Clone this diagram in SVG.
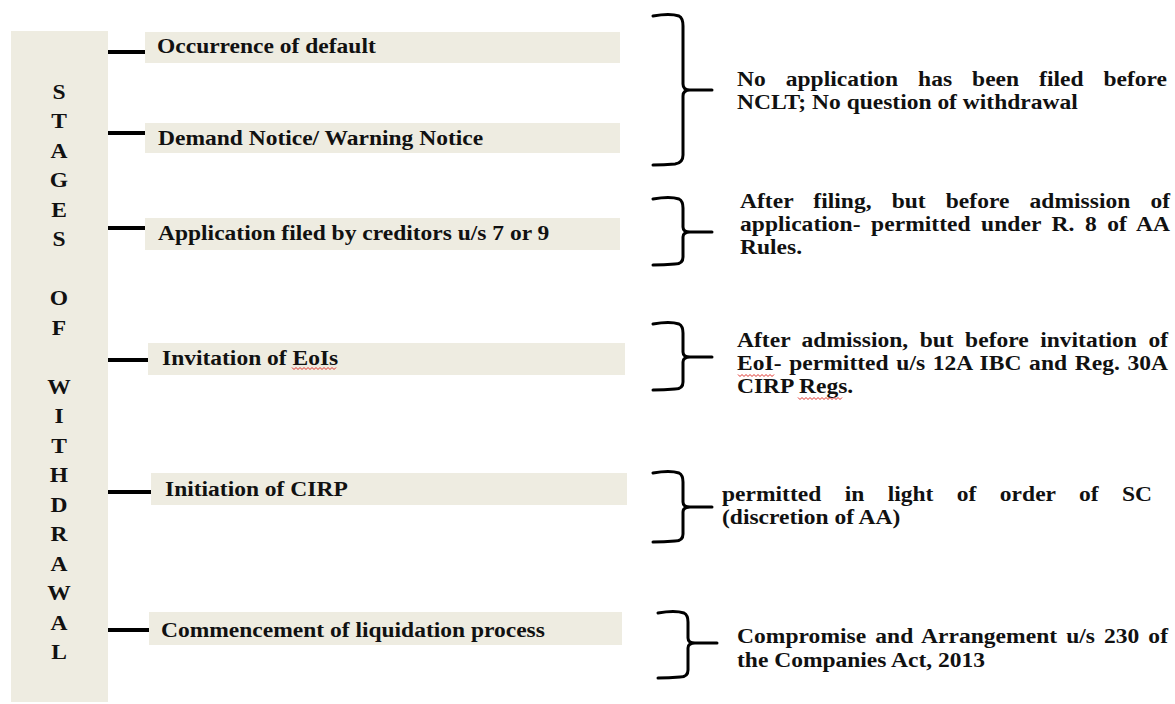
<svg xmlns="http://www.w3.org/2000/svg" width="1175" height="704" viewBox="0 0 1175 704">
<style>
.bg{fill:#EEECE1}
.t{font-family:"Liberation Serif","Times New Roman",serif;font-weight:bold;font-size:20px;fill:#111}
.c{text-anchor:middle}
.conn{stroke:#000;stroke-width:4;fill:none}
.br{stroke:#000;stroke-width:3;fill:none;stroke-linecap:round;stroke-linejoin:round}
.sq{stroke:#e0302a;stroke-width:1;fill:none}
</style>
<rect width="1175" height="704" fill="#fff"/>

<g id="stages-column">
<rect class="bg" x="11" y="31" width="97" height="671"/>
<text class="t c" transform="translate(59,98.5) scale(1.175,1)">S</text>
<text class="t c" transform="translate(59,128) scale(1.175,1)">T</text>
<text class="t c" transform="translate(59,157.5) scale(1.175,1)">A</text>
<text class="t c" transform="translate(59,187) scale(1.175,1)">G</text>
<text class="t c" transform="translate(59,216.5) scale(1.175,1)">E</text>
<text class="t c" transform="translate(59,246) scale(1.175,1)">S</text>
<text class="t c" transform="translate(59,305) scale(1.175,1)">O</text>
<text class="t c" transform="translate(59,334.5) scale(1.175,1)">F</text>
<text class="t c" transform="translate(59,393.5) scale(1.175,1)">W</text>
<text class="t c" transform="translate(59,423) scale(1.175,1)">I</text>
<text class="t c" transform="translate(59,452.5) scale(1.175,1)">T</text>
<text class="t c" transform="translate(59,482) scale(1.175,1)">H</text>
<text class="t c" transform="translate(59,511.5) scale(1.175,1)">D</text>
<text class="t c" transform="translate(59,541) scale(1.175,1)">R</text>
<text class="t c" transform="translate(59,570.5) scale(1.175,1)">A</text>
<text class="t c" transform="translate(59,600) scale(1.175,1)">W</text>
<text class="t c" transform="translate(59,629.5) scale(1.175,1)">A</text>
<text class="t c" transform="translate(59,659) scale(1.175,1)">L</text>
</g>

<g id="stage-occurrence">
<rect class="bg" x="145" y="32" width="475" height="31"/>
<text class="t" transform="translate(157,53) scale(1.175,1)">Occurrence of default</text>
</g>
<g id="stage-demand">
<rect class="bg" x="145" y="123" width="475" height="30"/>
<text class="t" transform="translate(158,145) scale(1.175,1)">Demand Notice/ Warning Notice</text>
</g>
<g id="stage-application">
<rect class="bg" x="145" y="218" width="475" height="32"/>
<text class="t" transform="translate(158,240) scale(1.175,1)">Application filed by creditors u/s 7 or 9</text>
</g>
<g id="stage-invitation">
<rect class="bg" x="148" y="343" width="477" height="32"/>
<text class="t" transform="translate(162,365) scale(1.175,1)">Invitation of EoIs</text>
<path class="sq" d="M292 367.5 l2 2 l2 -2 l2 2 l2 -2 l2 2 l2 -2 l2 2 l2 -2 l2 2 l2 -2 l2 2 l2 -2 l2 2 l2 -2 l2 2 l2 -2 l2 2 l2 -2 l2 2 l2 -2 l2 2 l2 -2"/>
</g>
<g id="stage-initiation">
<rect class="bg" x="151" y="473" width="476" height="32"/>
<text class="t" transform="translate(165,496) scale(1.175,1)">Initiation of CIRP</text>
</g>
<g id="stage-liquidation">
<rect class="bg" x="149" y="612" width="473" height="33"/>
<text class="t" transform="translate(161,637) scale(1.175,1)">Commencement of liquidation process</text>
</g>

<g id="note-1">
<text class="t" transform="translate(737,86) scale(1.175,1)" style="word-spacing:12px" textLength="366" lengthAdjust="spacing">No application has been filed before</text>
<text class="t" transform="translate(737,109) scale(1.175,1)">NCLT; No question of withdrawal</text>
</g>
<g id="note-2">
<text class="t" transform="translate(740,208) scale(1.175,1)" style="word-spacing:12px" textLength="366" lengthAdjust="spacing">After filing, but before admission of</text>
<text class="t" transform="translate(740,231) scale(1.175,1)" style="word-spacing:3.9px" textLength="366" lengthAdjust="spacing">application- permitted under R. 8 of AA</text>
<text class="t" transform="translate(740,254) scale(1.175,1)">Rules.</text>
</g>
<g id="note-3">
<text class="t" transform="translate(737,347) scale(1.175,1)" style="word-spacing:4.7px" textLength="366.8" lengthAdjust="spacing">After admission, but before invitation of</text>
<text class="t" transform="translate(737,370) scale(1.175,1)" style="word-spacing:1.4px" textLength="366.8" lengthAdjust="spacing">EoI- permitted u/s 12A IBC and Reg. 30A</text>
<text class="t" transform="translate(737,393) scale(1.175,1)">CIRP Regs.</text>
<path class="sq" d="M738 374.5 l2 2 l2 -2 l2 2 l2 -2 l2 2 l2 -2 l2 2 l2 -2 l2 2 l2 -2 l2 2 l2 -2 l2 2 l2 -2 l2 2 l2 -2 l2 2 l2 -2"/>
<path class="sq" d="M798 397.5 l2 2 l2 -2 l2 2 l2 -2 l2 2 l2 -2 l2 2 l2 -2 l2 2 l2 -2 l2 2 l2 -2 l2 2 l2 -2 l2 2 l2 -2 l2 2 l2 -2 l2 2 l2 -2 l2 2 l2 -2"/>
</g>
<g id="note-4">
<text class="t" transform="translate(722,501) scale(1.175,1)" style="word-spacing:14.9px" textLength="366" lengthAdjust="spacing">permitted in light of order of SC</text>
<text class="t" transform="translate(722,524) scale(1.175,1)">(discretion of AA)</text>
</g>
<g id="note-5">
<text class="t" transform="translate(737,643) scale(1.175,1)" style="word-spacing:2.6px" textLength="366.8" lengthAdjust="spacing">Compromise and Arrangement u/s 230 of</text>
<text class="t" transform="translate(737,667) scale(1.175,1)">the Companies Act, 2013</text>
</g>

<g id="connectors">
<line class="conn" x1="108" y1="52" x2="145" y2="52"/>
<line class="conn" x1="108" y1="133" x2="145" y2="133"/>
<line class="conn" x1="108" y1="228" x2="145" y2="228"/>
<line class="conn" x1="108" y1="360" x2="148" y2="360"/>
<line class="conn" x1="108" y1="492" x2="151" y2="492"/>
<line class="conn" x1="108" y1="630" x2="149" y2="630"/>
<path class="br" d="M653 16 Q670 13 679 16 Q683 18 683 26 L683 84 Q683 90 690 90 L712 90 M690 90 Q683 90 683 96 L683 155 Q683 163 675 164 Q664 165 653 165"/>
<path class="br" d="M653 199 Q670 196 679 199 Q683 201 683 208 L683 227 Q683 232 690 232 L712 232 M690 232 Q683 232 683 237 L683 257 Q683 264 675 264 Q664 265 653 265"/>
<path class="br" d="M653 324 Q670 321 679 324 Q683 326 683 333 L683 352 Q683 357 690 357 L712 357 M690 357 Q683 357 683 362 L683 382 Q683 389 675 389 Q664 390 653 390"/>
<path class="br" d="M653 473 Q670 470 679 473 Q683 475 683 482 L683 502 Q683 507 690 507 L712 507 M690 507 Q683 507 683 512 L683 534 Q683 541 675 541 Q664 542 653 542"/>
<path class="br" d="M658 613 Q675 610 684 613 Q688 615 688 622 L688 638 Q688 643 695 643 L717 643 M695 643 Q688 643 688 648 L688 670 Q688 677 680 677 Q669 678 658 678"/>
</g>
</svg>
